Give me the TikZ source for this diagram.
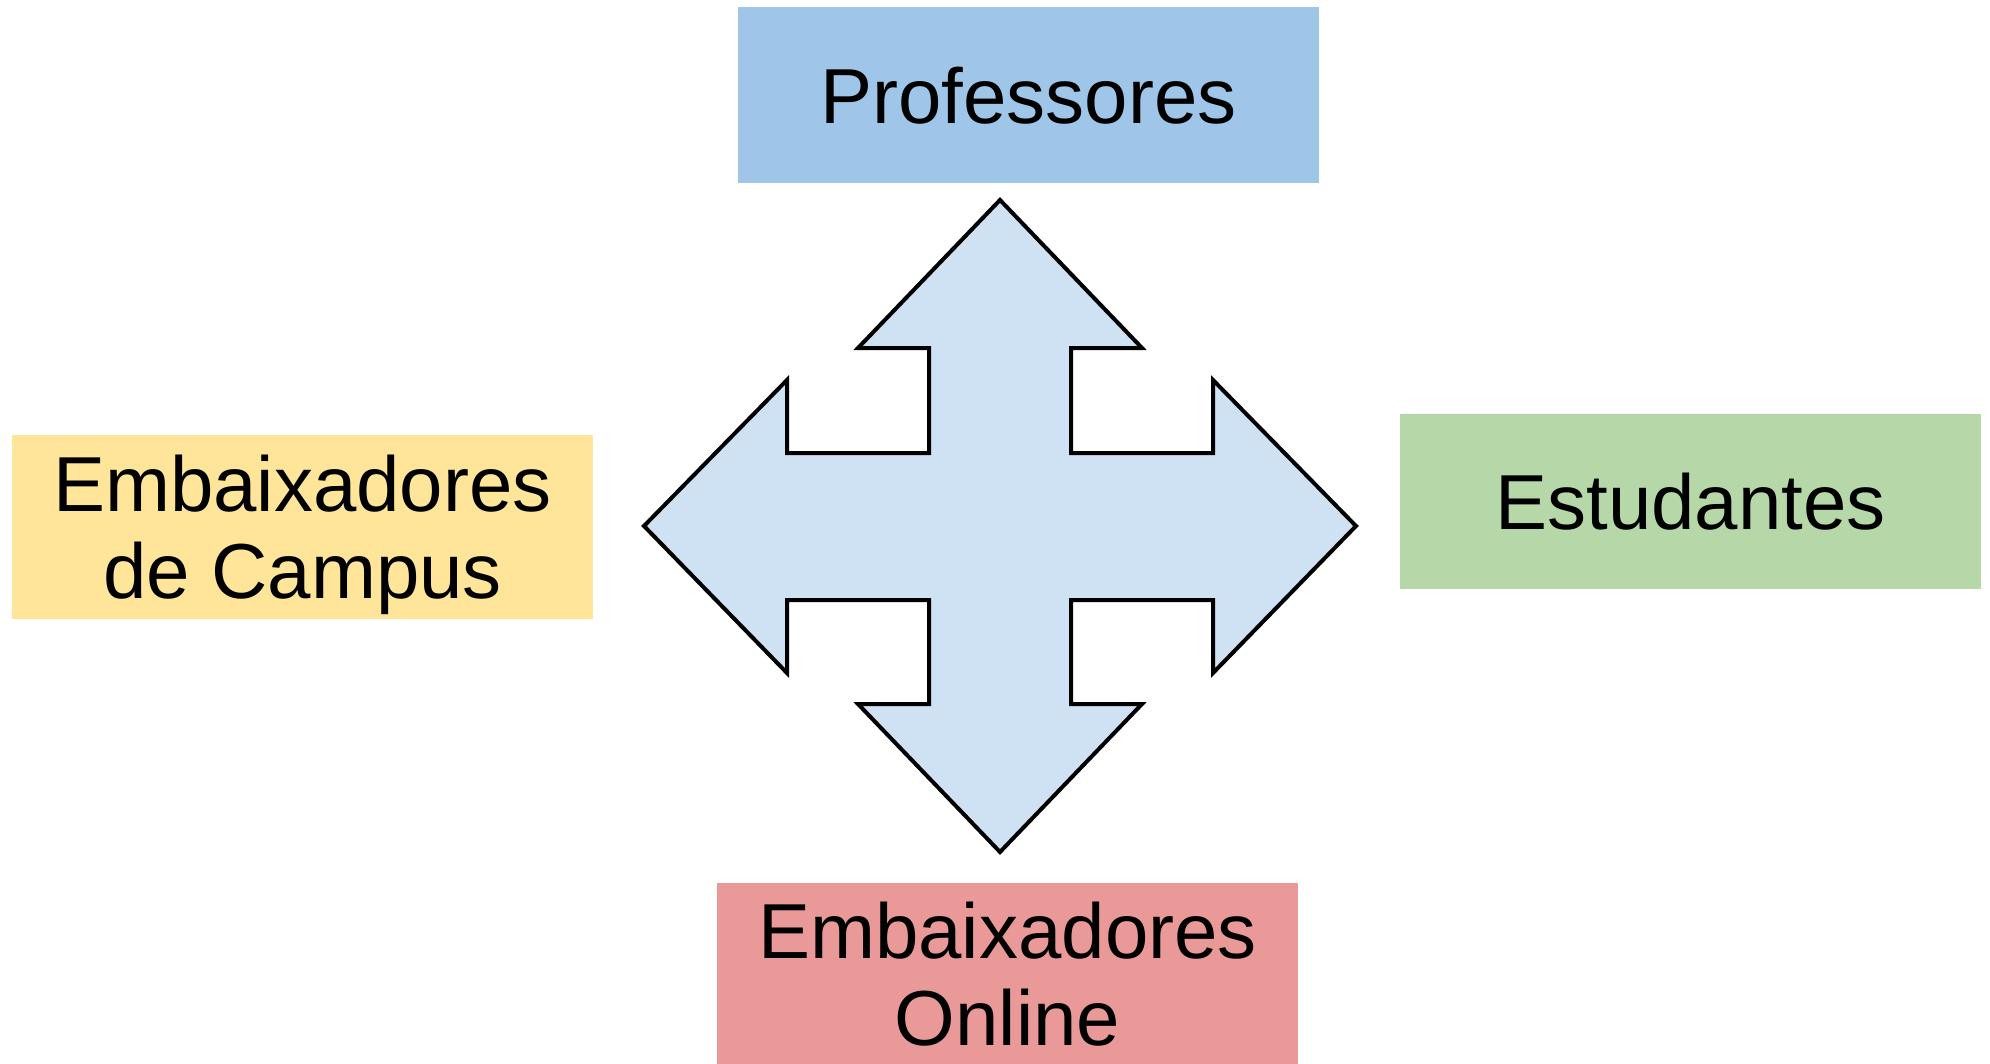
\documentclass[tikz,border=0pt]{standalone}
\usepackage{fontspec}
\setmainfont{Liberation Sans}
\definecolor{profblue}{HTML}{9FC5E8}
\definecolor{campusyellow}{HTML}{FFE599}
\definecolor{studgreen}{HTML}{B6D7A8}
\definecolor{onlinered}{HTML}{EA9999}
\definecolor{arrowblue}{HTML}{CFE2F3}
\begin{document}
\begin{tikzpicture}[x=0.5pt,y=-0.5pt,
  labelbox/.style={inner sep=0pt, text depth=0pt, align=center,
    font=\fontsize{39}{43.5}\selectfont, minimum width=290.5pt},
  crossarrow/.style={draw=black, fill=arrowblue, line width=2pt, line join=miter}]
\useasboundingbox (0,0) rectangle (1990,1064);
\node[labelbox, fill=profblue, minimum height=88pt] (prof) at (1028.5,95) {Professores};
\node[labelbox, fill=campusyellow, minimum height=92pt] (campus) at (302.5,527) {Embaixadores\\de Campus};
\node[labelbox, fill=studgreen, minimum height=87.5pt] (stud) at (1690.5,501.5) {Estudantes};
\node[labelbox, fill=onlinered, minimum height=90.5pt] (online) at (1007.5,973.5) {Embaixadores\\Online};
\draw[crossarrow]
  (1000,200) -- (1142,348) -- (1071,348) -- (1071,453) -- (1213,453) -- (1213,380)
  -- (1356,526) -- (1213,673) -- (1213,600) -- (1071,600) -- (1071,704) -- (1142,704)
  -- (1000,852) -- (858,704) -- (929,704) -- (929,600) -- (787,600) -- (787,673)
  -- (644,526) -- (787,380) -- (787,453) -- (929,453) -- (929,348) -- (858,348) -- cycle;
\end{tikzpicture}
\end{document}
